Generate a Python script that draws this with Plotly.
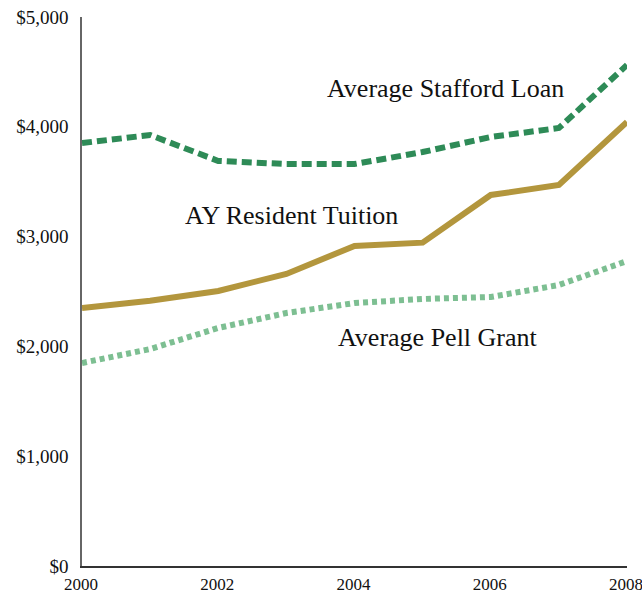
import plotly.graph_objects as go

years = [2000, 2001, 2002, 2003, 2004, 2005, 2006, 2007, 2008]
stafford_loan = [3852, 3925, 3689, 3661, 3661, 3770, 3907, 3989, 4563]
resident_tuition = [2350, 2415, 2505, 2660, 2915, 2945, 3379, 3470, 4044]
pell_grant = [1849, 1976, 2168, 2304, 2395, 2432, 2450, 2559, 2778]

y_ticks = [0, 1000, 2000, 3000, 4000, 5000]
y_tick_labels = ["$0", "$1,000", "$2,000", "$3,000", "$4,000", "$5,000"]
x_ticks = [2000, 2002, 2004, 2006, 2008]

labels = {
    "stafford": "Average Stafford Loan",
    "tuition": "AY Resident Tuition",
    "pell": "Average Pell Grant",
}

FONT = "Liberation Serif"

fig = go.Figure()
fig.add_trace(go.Scatter(x=years, y=stafford_loan, mode="lines",
                         line=dict(color="#2E8B57", width=6, dash="10px,5px"),
                         name=labels["stafford"], hoverinfo="x+y"))
fig.add_trace(go.Scatter(x=years, y=resident_tuition, mode="lines",
                         line=dict(color="#B3963D", width=6),
                         name=labels["tuition"], hoverinfo="x+y"))
fig.add_trace(go.Scatter(x=years, y=pell_grant, mode="lines",
                         line=dict(color="#7DBF92", width=6, dash="5px,4px"),
                         name=labels["pell"], hoverinfo="x+y"))

fig.add_annotation(x=2005.33, y=4353, text=labels["stafford"], showarrow=False,
                   font=dict(family=FONT, size=26, color="#111"))
fig.add_annotation(x=2003.07, y=3188, text=labels["tuition"], showarrow=False,
                   font=dict(family=FONT, size=26, color="#111"))
fig.add_annotation(x=2005.23, y=2077, text=labels["pell"], showarrow=False,
                   font=dict(family=FONT, size=26, color="#111"))

fig.update_layout(
    width=642, height=598,
    margin=dict(l=82, r=15, t=17, b=32),
    paper_bgcolor="white", plot_bgcolor="white",
    showlegend=False,
    font=dict(family=FONT, color="#111"),
    xaxis=dict(range=[2000, 2008], tickvals=x_ticks, showgrid=False, zeroline=False,
               showline=True, linecolor="#333", linewidth=1.5, ticks="",
               automargin=False, ticklabeloverflow="allow", ticklabelstandoff=2,
               ticklabelshift=-1,
               tickfont=dict(family=FONT, size=17, color="#111")),
    yaxis=dict(range=[0, 5000], tickvals=y_ticks, ticktext=y_tick_labels,
               showgrid=False, zeroline=False, showline=True, linecolor="#666",
               linewidth=1.5, ticks="", automargin=False, ticklabeloverflow="allow",
               ticklabelstandoff=8,
               tickfont=dict(family=FONT, size=19, color="#111")),
)

# remove the default page margin so the 642x598 figure fills the window exactly
fig.write_html("out.html",
               config={"displayModeBar": False},
               post_script="document.body.style.margin='0';document.body.style.overflow='hidden';")
